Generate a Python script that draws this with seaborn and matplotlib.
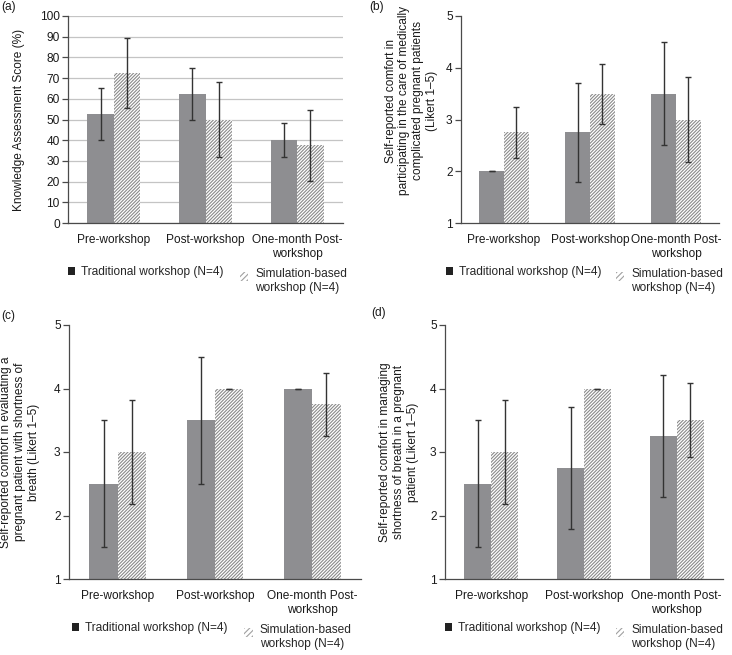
"""Four-panel grouped bar chart: traditional vs simulation-based workshop."""
import matplotlib

matplotlib.use("Agg")
import matplotlib.pyplot as plt
import pandas as pd
import seaborn as sns
from matplotlib.legend_handler import HandlerPatch
from matplotlib.patches import Patch, Rectangle
from matplotlib.ticker import FixedLocator, MultipleLocator

phases = ["Pre-workshop", "Post-workshop", "One-month Post-\nworkshop"]
groups = ["Traditional workshop (N=4)", "Simulation-based\nworkshop (N=4)"]

# (a) knowledge score
knowledge_trad = [52.5, 62.5, 40.0]
knowledge_trad_sd = [12.6, 12.6, 8.2]
knowledge_sim = [72.5, 50.0, 37.5]
knowledge_sim_sd = [17.0, 18.2, 17.2]
# (b) comfort caring for medically complicated pregnant patients
care_trad = [2.0, 2.75, 3.5]
care_trad_sd = [0.0, 0.96, 1.0]
care_sim = [2.75, 3.5, 3.0]
care_sim_sd = [0.5, 0.58, 0.82]
# (c) comfort evaluating shortness of breath
eval_trad = [2.5, 3.5, 4.0]
eval_trad_sd = [1.0, 1.0, 0.0]
eval_sim = [3.0, 4.0, 3.75]
eval_sim_sd = [0.82, 0.0, 0.5]
# (d) comfort managing shortness of breath
manage_trad = [2.5, 2.75, 3.25]
manage_trad_sd = [1.0, 0.96, 0.96]
manage_sim = [3.0, 4.0, 3.5]
manage_sim_sd = [0.82, 0.0, 0.58]

ylabels = [
    "Knowledge Assessment Score (%)",
    "Self-reported comfort in\nparticipating in the care of medically\ncomplicated pregnant patients\n(Likert 1\u20135)",
    "Self-reported comfort in evaluating a\npregnant patient with shortness of\nbreath (Likert 1\u20135)",
    "Self-reported comfort in managing\nshortness of breath in a pregnant\npatient (Likert 1\u20135)",
]
letters = ["(a)", "(b)", "(c)", "(d)"]

BAR_GRAY = "#8e8e91"
HATCH_GRAY = "#8a8a8a"
AXIS_COLOR = "#4a4a4a"
ERR_COLOR = "#333333"
FS = 8.6

sns.set_theme(style="white")
plt.rcParams["font.family"] = ["Liberation Sans", "DejaVu Sans"]
plt.rcParams["hatch.linewidth"] = 0.8


def top_square(legend, orig_handle, xdescent, ydescent, width, height, fontsize):
    # small marker square level with the first line of a two-line label
    s = 0.7 * fontsize
    return Rectangle((-xdescent, -ydescent + height - s), s, s)


fig = plt.figure(figsize=(7.32, 6.55), dpi=100)

W, H = 732, 655
# pixel boxes: left, top, right, bottom
boxes = [(68, 16, 343, 223), (461, 16, 719, 223), (69, 325, 361, 579), (445, 325, 723, 579)]
panels = [
    (knowledge_trad, knowledge_trad_sd, knowledge_sim, knowledge_sim_sd),
    (care_trad, care_trad_sd, care_sim, care_sim_sd),
    (eval_trad, eval_trad_sd, eval_sim, eval_sim_sd),
    (manage_trad, manage_trad_sd, manage_sim, manage_sim_sd),
]
label_x = [-0.156, -0.089, -0.099, -0.094]
label_y = [0.5, 0.59, 0.5, 0.5]
leg_trad_x = [0.0, -0.058, 0.01, 0.0]
leg_sim_x = [0.625, 0.60, 0.60, 0.615]
letter_pos = [(1, 1), (369, 1), (1, 310), (371, 307)]

for i, ((trad, trad_sd, sim, sim_sd), box) in enumerate(zip(panels, boxes)):
    l, t, r, b = box
    ax = fig.add_axes([l / W, 1 - b / H, (r - l) / W, (b - t) / H])

    df = pd.DataFrame({
        "phase": phases * 2,
        "group": [groups[0]] * 3 + [groups[1]] * 3,
        "score": trad + sim,
    })
    sns.barplot(data=df, x="phase", y="score", hue="group", order=phases,
                hue_order=groups, palette=[BAR_GRAY, "white"], saturation=1,
                width=0.58, errorbar=None, legend=False, ax=ax, zorder=2)

    for bar in ax.containers[0]:
        bar.set_edgecolor("none")
        bar.set_linewidth(0)
    for bar in ax.containers[1]:
        bar.set_facecolor("white")
        bar.set_edgecolor(HATCH_GRAY)
        bar.set_hatch("//////////")
        bar.set_linewidth(0)

    for cont, errs in zip(ax.containers, [trad_sd, sim_sd]):
        for bar, err in zip(cont, errs):
            ax.errorbar(bar.get_x() + bar.get_width() / 2, bar.get_height(), yerr=err,
                        fmt="none", ecolor=ERR_COLOR, elinewidth=1.0, capsize=2.0,
                        capthick=1.0, zorder=3)

    if i == 0:
        ax.set_ylim(0, 100)
        ax.yaxis.set_major_locator(MultipleLocator(10))
        ax.grid(axis="y", color="#c4c4c4", linewidth=0.9, zorder=0)
        ax.set_axisbelow(True)
    else:
        ax.set_ylim(1, 5)
        ax.yaxis.set_major_locator(MultipleLocator(1))
        ax.grid(False)
    ax.set_xlim(-0.5, 2.5)

    for side in ["top", "right"]:
        ax.spines[side].set_visible(False)
    for side in ["left", "bottom"]:
        ax.spines[side].set_color(AXIS_COLOR)
        ax.spines[side].set_linewidth(0.9)

    ax.xaxis.set_minor_locator(FixedLocator([-0.5, 0.5, 1.5, 2.5]))
    ax.tick_params(axis="x", which="major", length=0, pad=8, labelsize=FS, colors="#1a1a1a")
    ax.tick_params(axis="x", which="minor", length=4, width=0.9, color=AXIS_COLOR, direction="out")
    ax.tick_params(axis="y", which="major", length=4, width=0.9, color=AXIS_COLOR, pad=2,
                   labelsize=FS, labelcolor="#1a1a1a", direction="out", left=True)
    for lab in ax.get_xticklabels():
        lab.set_multialignment("center")

    ax.set_xlabel("")
    ax.set_ylabel(ylabels[i], fontsize=FS, color="#1a1a1a", multialignment="center")
    ax.yaxis.set_label_coords(label_x[i], label_y[i])

    # legends below each panel
    axis_h = b - t
    leg1 = ax.legend(handles=[Patch(facecolor="#222222", edgecolor="none")], labels=[groups[0]],
                     loc="center left", bbox_to_anchor=(leg_trad_x[i], -49 / axis_h),
                     frameon=False, fontsize=FS, handlelength=0.6, handleheight=0.6,
                     handletextpad=0.5, borderpad=0, borderaxespad=0)
    ax.add_artist(leg1)
    sim_handle = Patch(facecolor="white", edgecolor="#a0a0a0", hatch="//////", linewidth=0)
    ax.legend(handles=[sim_handle], labels=[groups[1]], loc="upper left",
              bbox_to_anchor=(leg_sim_x[i], -45 / axis_h), frameon=False, fontsize=FS,
              handlelength=0.7, handleheight=2.0, handletextpad=0.6, borderpad=0,
              borderaxespad=0,
              handler_map={Patch: HandlerPatch(patch_func=top_square)})

    fig.text(letter_pos[i][0] / W, 1 - letter_pos[i][1] / H, letters[i], fontsize=FS,
             ha="left", va="top", color="#1a1a1a")

fig.savefig("out.png", dpi=100)
